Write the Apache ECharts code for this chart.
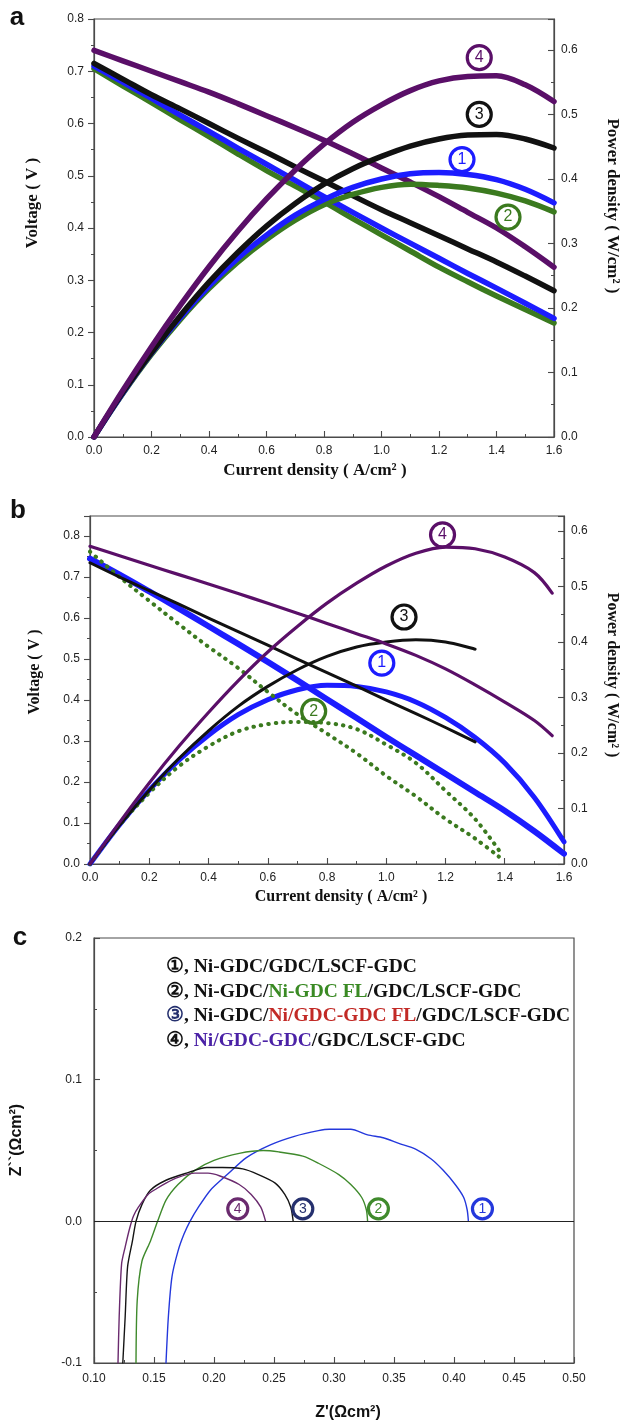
<!DOCTYPE html>
<html>
<head>
<meta charset="utf-8">
<script src="https://cdn.jsdelivr.net/npm/echarts@6/dist/echarts.min.js"></script>
<style>
  html, body { margin: 0; padding: 0; background: #ffffff; }
  #chart { width: 625px; height: 1427px; }
</style>
</head>
<body>
<div id="chart"></div>
<script>
// ---------- (a) cell performance, 0 - 1.6 A/cm2 ----------
const currentA = [0, 0.1, 0.2, 0.3, 0.4, 0.5, 0.6, 0.7, 0.8, 0.9, 1.0, 1.1, 1.2, 1.3, 1.4, 1.5, 1.6];
const voltA1 = [0.710, 0.679, 0.648, 0.616, 0.585, 0.553, 0.522, 0.491, 0.460, 0.430, 0.400, 0.371, 0.342, 0.313, 0.285, 0.256, 0.227];
const voltA2 = [0.705, 0.672, 0.640, 0.607, 0.575, 0.542, 0.510, 0.480, 0.450, 0.418, 0.387, 0.356, 0.325, 0.297, 0.270, 0.244, 0.218];
const voltA3 = [0.715, 0.685, 0.655, 0.628, 0.600, 0.572, 0.545, 0.517, 0.490, 0.462, 0.435, 0.410, 0.385, 0.360, 0.335, 0.308, 0.280];
const voltA4 = [0.740, 0.720, 0.700, 0.680, 0.660, 0.638, 0.615, 0.592, 0.568, 0.542, 0.515, 0.488, 0.460, 0.430, 0.400, 0.364, 0.325];
const powerA1 = [0, 0.068, 0.130, 0.185, 0.234, 0.277, 0.313, 0.344, 0.368, 0.387, 0.400, 0.408, 0.410, 0.407, 0.399, 0.384, 0.363];
const powerA2 = [0, 0.067, 0.128, 0.182, 0.230, 0.271, 0.306, 0.336, 0.360, 0.376, 0.387, 0.392, 0.390, 0.386, 0.378, 0.366, 0.349];
const powerA3 = [0, 0.069, 0.131, 0.188, 0.240, 0.286, 0.327, 0.362, 0.392, 0.416, 0.435, 0.451, 0.462, 0.468, 0.469, 0.462, 0.448];
const powerA4 = [0, 0.072, 0.140, 0.204, 0.264, 0.319, 0.369, 0.414, 0.454, 0.488, 0.515, 0.537, 0.552, 0.559, 0.560, 0.546, 0.520];

// ---------- (b) cell performance, second operating condition ----------
const currentB1 = [0, 0.1, 0.2, 0.3, 0.4, 0.5, 0.6, 0.7, 0.8, 0.9, 1.0, 1.1, 1.2, 1.3, 1.4, 1.5, 1.6];
const currentB2 = [0, 0.1, 0.2, 0.3, 0.4, 0.5, 0.6, 0.7, 0.8, 0.9, 1.0, 1.1, 1.2, 1.3, 1.38];
const currentB3 = [0, 0.1, 0.2, 0.3, 0.4, 0.5, 0.6, 0.7, 0.8, 0.9, 1.0, 1.1, 1.2, 1.3];
const currentB4 = [0, 0.1, 0.2, 0.3, 0.4, 0.5, 0.6, 0.7, 0.8, 0.9, 1.0, 1.1, 1.2, 1.3, 1.4, 1.5, 1.56];
const voltB1 = [0.745, 0.706, 0.665, 0.623, 0.580, 0.537, 0.493, 0.448, 0.402, 0.356, 0.310, 0.265, 0.220, 0.175, 0.130, 0.080, 0.025];
const voltB2 = [0.762, 0.700, 0.642, 0.585, 0.530, 0.478, 0.420, 0.365, 0.318, 0.270, 0.215, 0.165, 0.110, 0.062, 0.018];
const voltB3 = [0.735, 0.700, 0.667, 0.634, 0.600, 0.567, 0.534, 0.500, 0.467, 0.434, 0.400, 0.367, 0.333, 0.298];
const voltB4 = [0.775, 0.752, 0.729, 0.706, 0.683, 0.660, 0.636, 0.612, 0.587, 0.562, 0.537, 0.509, 0.476, 0.437, 0.395, 0.350, 0.313];
const powerB1 = [0, 0.071, 0.133, 0.187, 0.232, 0.269, 0.296, 0.314, 0.322, 0.320, 0.310, 0.292, 0.264, 0.228, 0.182, 0.120, 0.040];
const powerB2 = [0, 0.070, 0.128, 0.176, 0.212, 0.239, 0.252, 0.256, 0.254, 0.243, 0.215, 0.182, 0.132, 0.081, 0.025];
const powerB3 = [0, 0.070, 0.133, 0.190, 0.240, 0.284, 0.320, 0.350, 0.374, 0.391, 0.400, 0.404, 0.400, 0.387];
const powerB4 = [0, 0.075, 0.146, 0.212, 0.273, 0.330, 0.382, 0.428, 0.470, 0.506, 0.537, 0.560, 0.571, 0.568, 0.553, 0.525, 0.488];

// ---------- (c) impedance spectra (Z', Z'') ----------
const zRe1 = [0.160, 0.162, 0.165, 0.170, 0.175, 0.180, 0.187, 0.197, 0.211, 0.227, 0.247, 0.267, 0.287, 0.296, 0.314, 0.328, 0.341, 0.354, 0.368, 0.381, 0.391, 0.401, 0.408, 0.411, 0.412];
const zIm1 = [-0.100, -0.067, -0.039, -0.021, -0.009, 0, 0.010, 0.022, 0.033, 0.045, 0.054, 0.060, 0.064, 0.065, 0.065, 0.061, 0.059, 0.055, 0.051, 0.044, 0.036, 0.026, 0.017, 0.008, 0];
const zRe2 = [0.135, 0.136, 0.140, 0.147, 0.153, 0.160, 0.170, 0.184, 0.200, 0.221, 0.241, 0.254, 0.274, 0.287, 0.304, 0.314, 0.323, 0.327, 0.328];
const zIm2 = [-0.100, -0.056, -0.028, -0.014, 0, 0.015, 0.026, 0.036, 0.043, 0.048, 0.050, 0.049, 0.046, 0.041, 0.033, 0.026, 0.017, 0.008, 0];
const zRe3 = [0.124, 0.126, 0.128, 0.132, 0.135, 0.140, 0.147, 0.160, 0.177, 0.194, 0.207, 0.224, 0.237, 0.251, 0.259, 0.264, 0.266];
const zIm3 = [-0.100, -0.067, -0.032, -0.014, 0, 0.012, 0.022, 0.029, 0.034, 0.038, 0.038, 0.037, 0.033, 0.027, 0.019, 0.010, 0];
const zRe4 = [0.120, 0.121, 0.123, 0.126, 0.130, 0.133, 0.137, 0.145, 0.152, 0.160, 0.170, 0.184, 0.195, 0.205, 0.221, 0.231, 0.239, 0.243];
const zIm4 = [-0.100, -0.067, -0.030, -0.018, -0.004, 0.004, 0.010, 0.019, 0.023, 0.027, 0.031, 0.034, 0.034, 0.032, 0.026, 0.019, 0.010, 0];

// cell numbers and where their circled tags sit
const cellTags = ['1', '2', '3', '4'];
const tagPosA = [[1.28, 0.430], [1.44, 0.341], [1.34, 0.500], [1.34, 0.588]];
const tagPosB = [[0.985, 0.362], [0.755, 0.275], [1.06, 0.445], [1.19, 0.593]];
const tagPosC = [[0.4237, 0.0088], [0.337, 0.0088], [0.274, 0.0088], [0.2198, 0.0088]];

// legend lines of panel c
const legendCells = [
  [['k', '①, Ni-GDC/GDC/LSCF-GDC']],
  [['k', '②, Ni-GDC/'], ['g', 'Ni-GDC FL'], ['k', '/GDC/LSCF-GDC']],
  [['n', '③'], ['k', ', Ni-GDC/'], ['r', 'Ni/GDC-GDC FL'], ['k', '/GDC/LSCF-GDC']],
  [['k', '④, '], ['v', 'Ni/GDC-GDC'], ['k', '/GDC/LSCF-GDC']]
];

// ---------- styling ----------
const PURPLE = '#5a0f68', BLACK = '#111111', BLUE = '#1c1cff', GREEN = '#3b7a1f';
const C_BLUE = '#2438dc', C_GREEN = '#3f8a2c', C_BLACK = '#141414', C_PURPLE = '#6a2a6e';
const AXIS_COLOR = '#4a4a4a';
const SANS = '"Liberation Sans", Arial, sans-serif';
const SERIF = '"Liberation Serif", "Times New Roman", serif';

const pairs = (xs, ys) => xs.map((x, i) => [x, ys[i]]);

function fmt(interval, digits) {
  return function (v) {
    const k = v / interval;
    return Math.abs(k - Math.round(k)) < 1e-6 ? v.toFixed(digits) : '';
  };
}

function valueAxis(gridIndex, min, max, interval, digits, opts) {
  opts = opts || {};
  return Object.assign({
    type: 'value', gridIndex: gridIndex, min: min, max: max, interval: interval,
    splitLine: { show: false },
    axisLine: { show: true, onZero: false, lineStyle: { color: AXIS_COLOR, width: 1.2 } },
    axisTick: { show: true, inside: opts.outside ? false : true, length: 6, lineStyle: { color: AXIS_COLOR, width: 1.1 } },
    minorTick: { show: true, splitNumber: 2, length: 3, lineStyle: { color: AXIS_COLOR, width: 1 } },
    axisLabel: {
      show: true, formatter: fmt(interval, digits), color: '#222', fontSize: 12,
      fontFamily: SANS, margin: opts.margin || 8
    }
  }, opts.extra || {});
}

const gridBox = { show: true, borderColor: AXIS_COLOR, borderWidth: 1.2, backgroundColor: 'transparent' };

function curve(name, xi, yi, data, color, width, extra) {
  return Object.assign({
    name: name, type: 'line', xAxisIndex: xi, yAxisIndex: yi, data: data,
    showSymbol: false, symbol: 'none', smooth: 0.35, silent: true,
    lineStyle: { color: color, width: width, cap: 'round', join: 'round' },
    itemStyle: { color: color }, z: 3
  }, extra || {});
}

// circled cell numbers placed in data coordinates
function tags(xi, yi, positions, colors, size, fontSize) {
  return {
    type: 'scatter', xAxisIndex: xi, yAxisIndex: yi, silent: true, z: 6,
    symbol: 'circle', symbolSize: 2,
    itemStyle: { color: 'rgba(255,255,255,0)' },
    label: { show: true, position: 'inside' },
    labelLayout: { hideOverlap: false },
    data: positions.map((p, i) => ({
      value: p,
      label: {
        show: true, position: 'inside', formatter: cellTags[i],
        color: colors[i], borderColor: colors[i], borderWidth: 1.6,
        backgroundColor: 'rgba(255,255,255,0)',
        width: size, height: size, lineHeight: size, borderRadius: size / 2,
        align: 'center', verticalAlign: 'middle', padding: 0,
        fontSize: fontSize, fontFamily: SANS, opacity: 1
      }
    }))
  };
}

function txt(x, y, text, size, family, opts) {
  opts = opts || {};
  return {
    type: 'text', x: x, y: y, rotation: opts.rotation || 0, silent: true, z: 10,
    style: {
      text: text, fill: opts.color || '#111', fontSize: size, fontFamily: family,
      fontWeight: opts.weight || 'bold', align: opts.align || 'center',
      verticalAlign: 'middle', rich: opts.rich
    }
  };
}

// legend block for panel c
const LEGEND_SIZE = 19.5;
const legendRich = {};
[['k', '#111'], ['g', '#3a8a24'], ['r', '#c22a26'], ['n', '#25306e'], ['v', '#4b22a6']].forEach(function (p) {
  legendRich[p[0]] = { fill: p[1], fontSize: LEGEND_SIZE, fontFamily: SERIF, fontWeight: 'bold' };
});
const legendGraphics = legendCells.map(function (line, i) {
  const text = line.map(seg => '{' + seg[0] + '|' + seg[1] + '}').join('');
  return txt(166, 967 + i * 24.5, text, LEGEND_SIZE, SERIF, { align: 'left', rich: legendRich });
});

const chart = echarts.init(document.getElementById('chart'), null, { renderer: 'canvas', width: 625, height: 1427 });

const option = {
  backgroundColor: '#ffffff',
  animation: false,
  grid: [
    Object.assign({ left: 94, top: 19, width: 460, height: 418 }, gridBox),
    Object.assign({ left: 90, top: 516, width: 474, height: 348 }, gridBox),
    Object.assign({ left: 94, top: 938, width: 480, height: 425 }, gridBox)
  ],
  xAxis: [
    valueAxis(0, 0, 1.6, 0.2, 1, { margin: 8 }),
    valueAxis(1, 0, 1.6, 0.2, 1, { margin: 8 }),
    valueAxis(2, 0.1, 0.5, 0.05, 2, { margin: 10 })
  ],
  yAxis: [
    valueAxis(0, 0, 0.8, 0.1, 1, { outside: true, margin: 10 }),
    valueAxis(0, 0, 0.648, 0.1, 1, { margin: 7, extra: { position: 'right' } }),
    valueAxis(1, 0, 0.849, 0.1, 1, { outside: true, margin: 10 }),
    valueAxis(1, 0, 0.627, 0.1, 1, { margin: 7, extra: { position: 'right' } }),
    valueAxis(2, -0.1, 0.2, 0.1, 1, { margin: 12 })
  ],
  series: [
    // (a) voltage on the left axis, power density on the right axis
    curve('V2a', 0, 0, pairs(currentA, voltA2), GREEN, 5.5),
    curve('V1a', 0, 0, pairs(currentA, voltA1), BLUE, 5.5),
    curve('V3a', 0, 0, pairs(currentA, voltA3), BLACK, 5.5),
    curve('V4a', 0, 0, pairs(currentA, voltA4), PURPLE, 5.5),
    curve('P2a', 0, 1, pairs(currentA, powerA2), GREEN, 5.5),
    curve('P1a', 0, 1, pairs(currentA, powerA1), BLUE, 5.5),
    curve('P3a', 0, 1, pairs(currentA, powerA3), BLACK, 5.5),
    curve('P4a', 0, 1, pairs(currentA, powerA4), PURPLE, 5.5),
    tags(0, 1, tagPosA, [BLUE, GREEN, BLACK, PURPLE], 24, 16),

    // (b)
    curve('V1b', 1, 2, pairs(currentB1, voltB1), BLUE, 6),
    curve('P1b', 1, 3, pairs(currentB1, powerB1), BLUE, 5),
    curve('V2b', 1, 2, pairs(currentB2, voltB2), GREEN, 4, { lineStyle: { color: GREEN, width: 4, type: [0.5, 7], cap: 'round' } }),
    curve('P2b', 1, 3, pairs(currentB2, powerB2), GREEN, 4, { lineStyle: { color: GREEN, width: 4, type: [0.5, 7], cap: 'round' } }),
    curve('V3b', 1, 2, pairs(currentB3, voltB3), BLACK, 3),
    curve('P3b', 1, 3, pairs(currentB3, powerB3), BLACK, 3),
    curve('V4b', 1, 2, pairs(currentB4, voltB4), PURPLE, 3.2),
    curve('P4b', 1, 3, pairs(currentB4, powerB4), PURPLE, 3.2),
    tags(1, 3, tagPosB, [BLUE, GREEN, BLACK, PURPLE], 24, 16),

    // (c) Nyquist plots, with the Z'' = 0 reference line
    curve('Z1', 2, 4, pairs(zRe1, zIm1), C_BLUE, 1.4, {
      smooth: 0.25,
      markLine: {
        silent: true, symbol: 'none', label: { show: false },
        lineStyle: { color: '#222', width: 1, type: 'solid' },
        data: [{ yAxis: 0 }]
      }
    }),
    curve('Z2', 2, 4, pairs(zRe2, zIm2), C_GREEN, 1.4, { smooth: 0.25 }),
    curve('Z3', 2, 4, pairs(zRe3, zIm3), C_BLACK, 1.4, { smooth: 0.25 }),
    curve('Z4', 2, 4, pairs(zRe4, zIm4), C_PURPLE, 1.4, { smooth: 0.25 }),
    tags(2, 4, tagPosC, [C_BLUE, C_GREEN, '#25306e', C_PURPLE], 20, 14)
  ],
  graphic: [
    // panel letters
    txt(17, 18, 'a', 26, SANS),
    txt(18, 511, 'b', 26, SANS),
    txt(20, 938, 'c', 26, SANS),
    // (a) axis titles
    txt(33, 203, 'Voltage ( V )', 17, SERIF, { rotation: Math.PI / 2 }),
    txt(612, 206, 'Power density ( W/cm² )', 17, SERIF, { rotation: -Math.PI / 2 }),
    txt(315, 471, 'Current density ( A/cm² )', 17, SERIF),
    // (b) axis titles
    txt(35, 672, 'Voltage ( V )', 16, SERIF, { rotation: Math.PI / 2 }),
    txt(612, 675, 'Power density ( W/cm² )', 16, SERIF, { rotation: -Math.PI / 2 }),
    txt(341, 897, 'Current density ( A/cm² )', 16, SERIF),
    // (c) axis titles
    txt(17, 1140, 'Z``(Ωcm²)', 16, SANS, { rotation: Math.PI / 2 }),
    txt(348, 1413, "Z'(Ωcm²)", 16, SANS)
  ].concat(legendGraphics)
};

chart.setOption(option);
</script>
</body>
</html>
